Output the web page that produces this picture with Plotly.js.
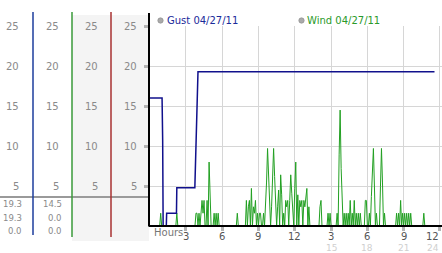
<!DOCTYPE html>
<html><head><meta charset="utf-8">
<script src="https://cdn.plot.ly/plotly-3.0.1.min.js"></script>
<style>html,body{margin:0;padding:0;background:#fff;overflow:hidden}#chart{width:442px;height:253px}</style>
</head><body><div id="chart"></div>
<script>
// Gust series (hours since midnight, mph)
const gustHours = [0, 1.03, 1.08, 1.12, 1.38, 1.41, 2.22, 2.25, 3.74, 3.82, 3.9, 4.0, 23.55];
const gustVals  = [16, 16, 10.7, 0, 0, 1.6, 1.6, 4.8, 4.8, 8.6, 14.5, 19.3, 19.3];
// Wind series, one value every 5 minutes from midnight
const windVals = [
  0,0,0,0,0,0,0,0,0,0,0,1.6,
  0,0,0,0,0,0,0,0,0,0,0,0,
  0,0,0,1.6,0,0,0,0,0,0,0,0,
  0,0,0,0,0,0,0,0,0,0,1.6,1.6,
  0,1.6,0,2.4,3.2,1.6,3.2,0,0,3.2,0,8.0,
  4.0,0,0,0,1.6,0,1.6,0,1.6,0,0,0,
  0,0,0,0,0,0,0,0,0,0,0,0,
  0,0,0,1.6,0,0,0,0,0,0,0,0,
  3.2,0,2.4,3.2,0,4.7,0,2.4,1.6,3.2,0,1.6,
  0,1.6,1.6,0,0,1.6,0,2.4,5.5,9.7,5.5,3.2,
  0,2.4,5.5,9.7,6.2,3.2,0,2.4,4.5,0,6.4,3.9,
  0,1.6,0,3.2,2.4,3.2,0,3.2,6.4,4.1,2.4,0,
  4.7,8.0,0,3.9,0,3.2,2.4,3.2,0,3.2,2.4,4.0,
  4.7,0,2.4,0,0,0,0,0,0,0,0,0,
  0,2.4,3.2,0,0,0,0,0,0,1.6,0,1.6,
  0,0,0,0,0,0,1.6,0,8.9,14.5,7.2,3.2,
  0,1.6,0,1.6,0,1.6,0,3.2,0,1.6,0,3.2,
  0,1.6,0,1.6,0,1.6,0,0,0,0,3.2,3.2,
  0,0,1.6,0,3.7,7.2,9.7,5.0,0,1.6,0,0,
  0,4.9,9.7,5.5,0,1.6,0,0,0,0,0,0,
  0,0,0,0,0,1.6,0,1.6,0,3.2,0,1.6,
  0,1.6,0,1.6,0,1.6,0,1.6,0,0,0,0,
  0,0,0,0,0,0,0,0,1.6,0,0,0,
  0,0,0,0,0,0,0,0
];
const windHours = windVals.map((v, i) => i / 12);

const yTicks = [5, 10, 15, 20, 25];
const yTickLabels = ['5', '10', '15', '20', '25'];
const xTicks = [3, 6, 9, 12, 15, 18, 21, 24];
const xTickLabels = ['3', '6', '9', '12', '3', '6', '9', '12'];
const xTickLabels2 = ['', '', '', '', '15', '18', '21', '24'];
const seriesNames = ['Gust 04/27/11', 'Wind 04/27/11'];
const statGust = ['19.3', '19.3', '0.0'];
const statWind = ['14.5', '0.0', '0.0'];

// layout helpers (pixel -> paper)
const L = 149, W = 293, T = 26, H = 200;
const px = p => (p - L) / W;
const py = p => (T + H - p) / H;
const FONT = 'DejaVu Sans, Verdana, sans-serif';

const shapes = [];
const annotations = [];

// left panel backgrounds and separators
shapes.push({type:'rect', xref:'paper', yref:'paper', x0:px(72), x1:px(149), y0:py(241), y1:py(15), fillcolor:'#f4f4f4', line:{width:0}, layer:'below'});
shapes.push({type:'line', xref:'paper', yref:'paper', x0:px(0), x1:px(149), y0:py(197), y1:py(197), line:{color:'#9a9a9a', width:2}});
shapes.push({type:'line', xref:'paper', yref:'paper', x0:px(33), x1:px(33), y0:py(12), y1:py(235), line:{color:'#1c3c9c', width:1.5}});
shapes.push({type:'line', xref:'paper', yref:'paper', x0:px(72), x1:px(72), y0:py(12), y1:py(237), line:{color:'#3a9a3a', width:1.5}});
shapes.push({type:'line', xref:'paper', yref:'paper', x0:px(111), x1:px(111), y0:py(12), y1:py(237), line:{color:'#a83232', width:1.5}});
// main axes lines
shapes.push({type:'line', xref:'paper', yref:'paper', x0:0, x1:0, y0:py(13), y1:py(226.5), line:{color:'#000', width:2}});
shapes.push({type:'line', xref:'paper', yref:'paper', x0:0, x1:px(442), y0:0, y1:0, line:{color:'#000', width:2}});
// legend markers
[160.5, 301.5].forEach(cx => {
  shapes.push({type:'circle', xref:'paper', yref:'paper', x0:px(cx-2.7), x1:px(cx+2.7), y0:py(23.2), y1:py(17.8), fillcolor:'#aaaaaa', line:{color:'#888', width:0.6}});
});
annotations.push({xref:'paper', yref:'paper', x:px(165), y:py(20.5), xanchor:'left', yanchor:'middle', showarrow:false, text:seriesNames[0], font:{family:FONT, size:10, color:'#1a2a9a'}});
annotations.push({xref:'paper', yref:'paper', x:px(305), y:py(20.5), xanchor:'left', yanchor:'middle', showarrow:false, text:seriesNames[1], font:{family:FONT, size:10, color:'#2a9a2a'}});

// column tick labels
const colRights = [21, 61, 100, 139];
yTicks.forEach((v, k) => {
  colRights.forEach(r => {
    annotations.push({xref:'paper', yref:'y', x:px(r), y:v, xanchor:'right', yanchor:'middle', showarrow:false, text:yTickLabels[k], font:{family:FONT, size:10, color:'#8a8a8a'}});
  });
});
// stats
const statYs = [204, 218, 231];
statGust.forEach((s, k) => annotations.push({xref:'paper', yref:'paper', x:px(24), y:py(statYs[k]), xanchor:'right', yanchor:'middle', showarrow:false, text:s, font:{family:FONT, size:8.5, color:'#8a8a8a'}}));
statWind.forEach((s, k) => annotations.push({xref:'paper', yref:'paper', x:px(64), y:py(statYs[k]), xanchor:'right', yanchor:'middle', showarrow:false, text:s, font:{family:FONT, size:8.5, color:'#8a8a8a'}}));

// x axis labels
annotations.push({xref:'paper', yref:'paper', x:px(152), y:py(232), xanchor:'left', yanchor:'middle', showarrow:false, text:'Hours', font:{family:FONT, size:10, color:'#777'}});
xTicks.forEach((t, k) => {
  const last = k === xTicks.length - 1;
  const anc = last ? 'right' : 'center';
  annotations.push({xref:'x', yref:'paper', x:t, y:py(236.5), xanchor:anc, yanchor:'middle', showarrow:false, borderpad:0, text:xTickLabels[k], font:{family:FONT, size:10, color:'#555'}});
  if (xTickLabels2[k]) annotations.push({xref:'x', yref:'paper', x:t, y:py(247.5), xanchor:anc, yanchor:'middle', showarrow:false, borderpad:0, text:xTickLabels2[k], font:{family:FONT, size:9, color:'#cfcfcf'}});
});

const data = [
  {x: windHours, y: windVals, type:'scatter', mode:'lines', line:{color:'#22a022', width:1}, hoverinfo:'skip'},
  {x: gustHours, y: gustVals, type:'scatter', mode:'lines', line:{color:'#10108c', width:1.5}, hoverinfo:'skip'}
];
const layout = {
  width: 442, height: 253,
  margin: {l: L, r: 0, t: T, b: 27, pad: 0},
  paper_bgcolor: '#fff', plot_bgcolor: '#fff',
  showlegend: false,
  xaxis: {range: [-0.05, 24.17], tickvals: xTicks, showticklabels: false, ticks: 'outside', ticklen: 4, tickwidth: 3, tickcolor: '#b4b4b4', showgrid: true, gridcolor: '#d6d6d6', gridwidth: 1, zeroline: false, showline: false, fixedrange: true},
  yaxis: {range: [0, 25.02], tickvals: yTicks, showticklabels: false, ticks: 'outside', ticklen: 4, tickwidth: 3, tickcolor: '#b4b4b4', showgrid: true, gridcolor: '#d6d6d6', gridwidth: 1, zeroline: false, showline: false, fixedrange: true},
  shapes: shapes,
  annotations: annotations,
  font: {family: FONT}
};
Plotly.newPlot('chart', data, layout, {displayModeBar: false, staticPlot: true});
</script>
</body></html>
